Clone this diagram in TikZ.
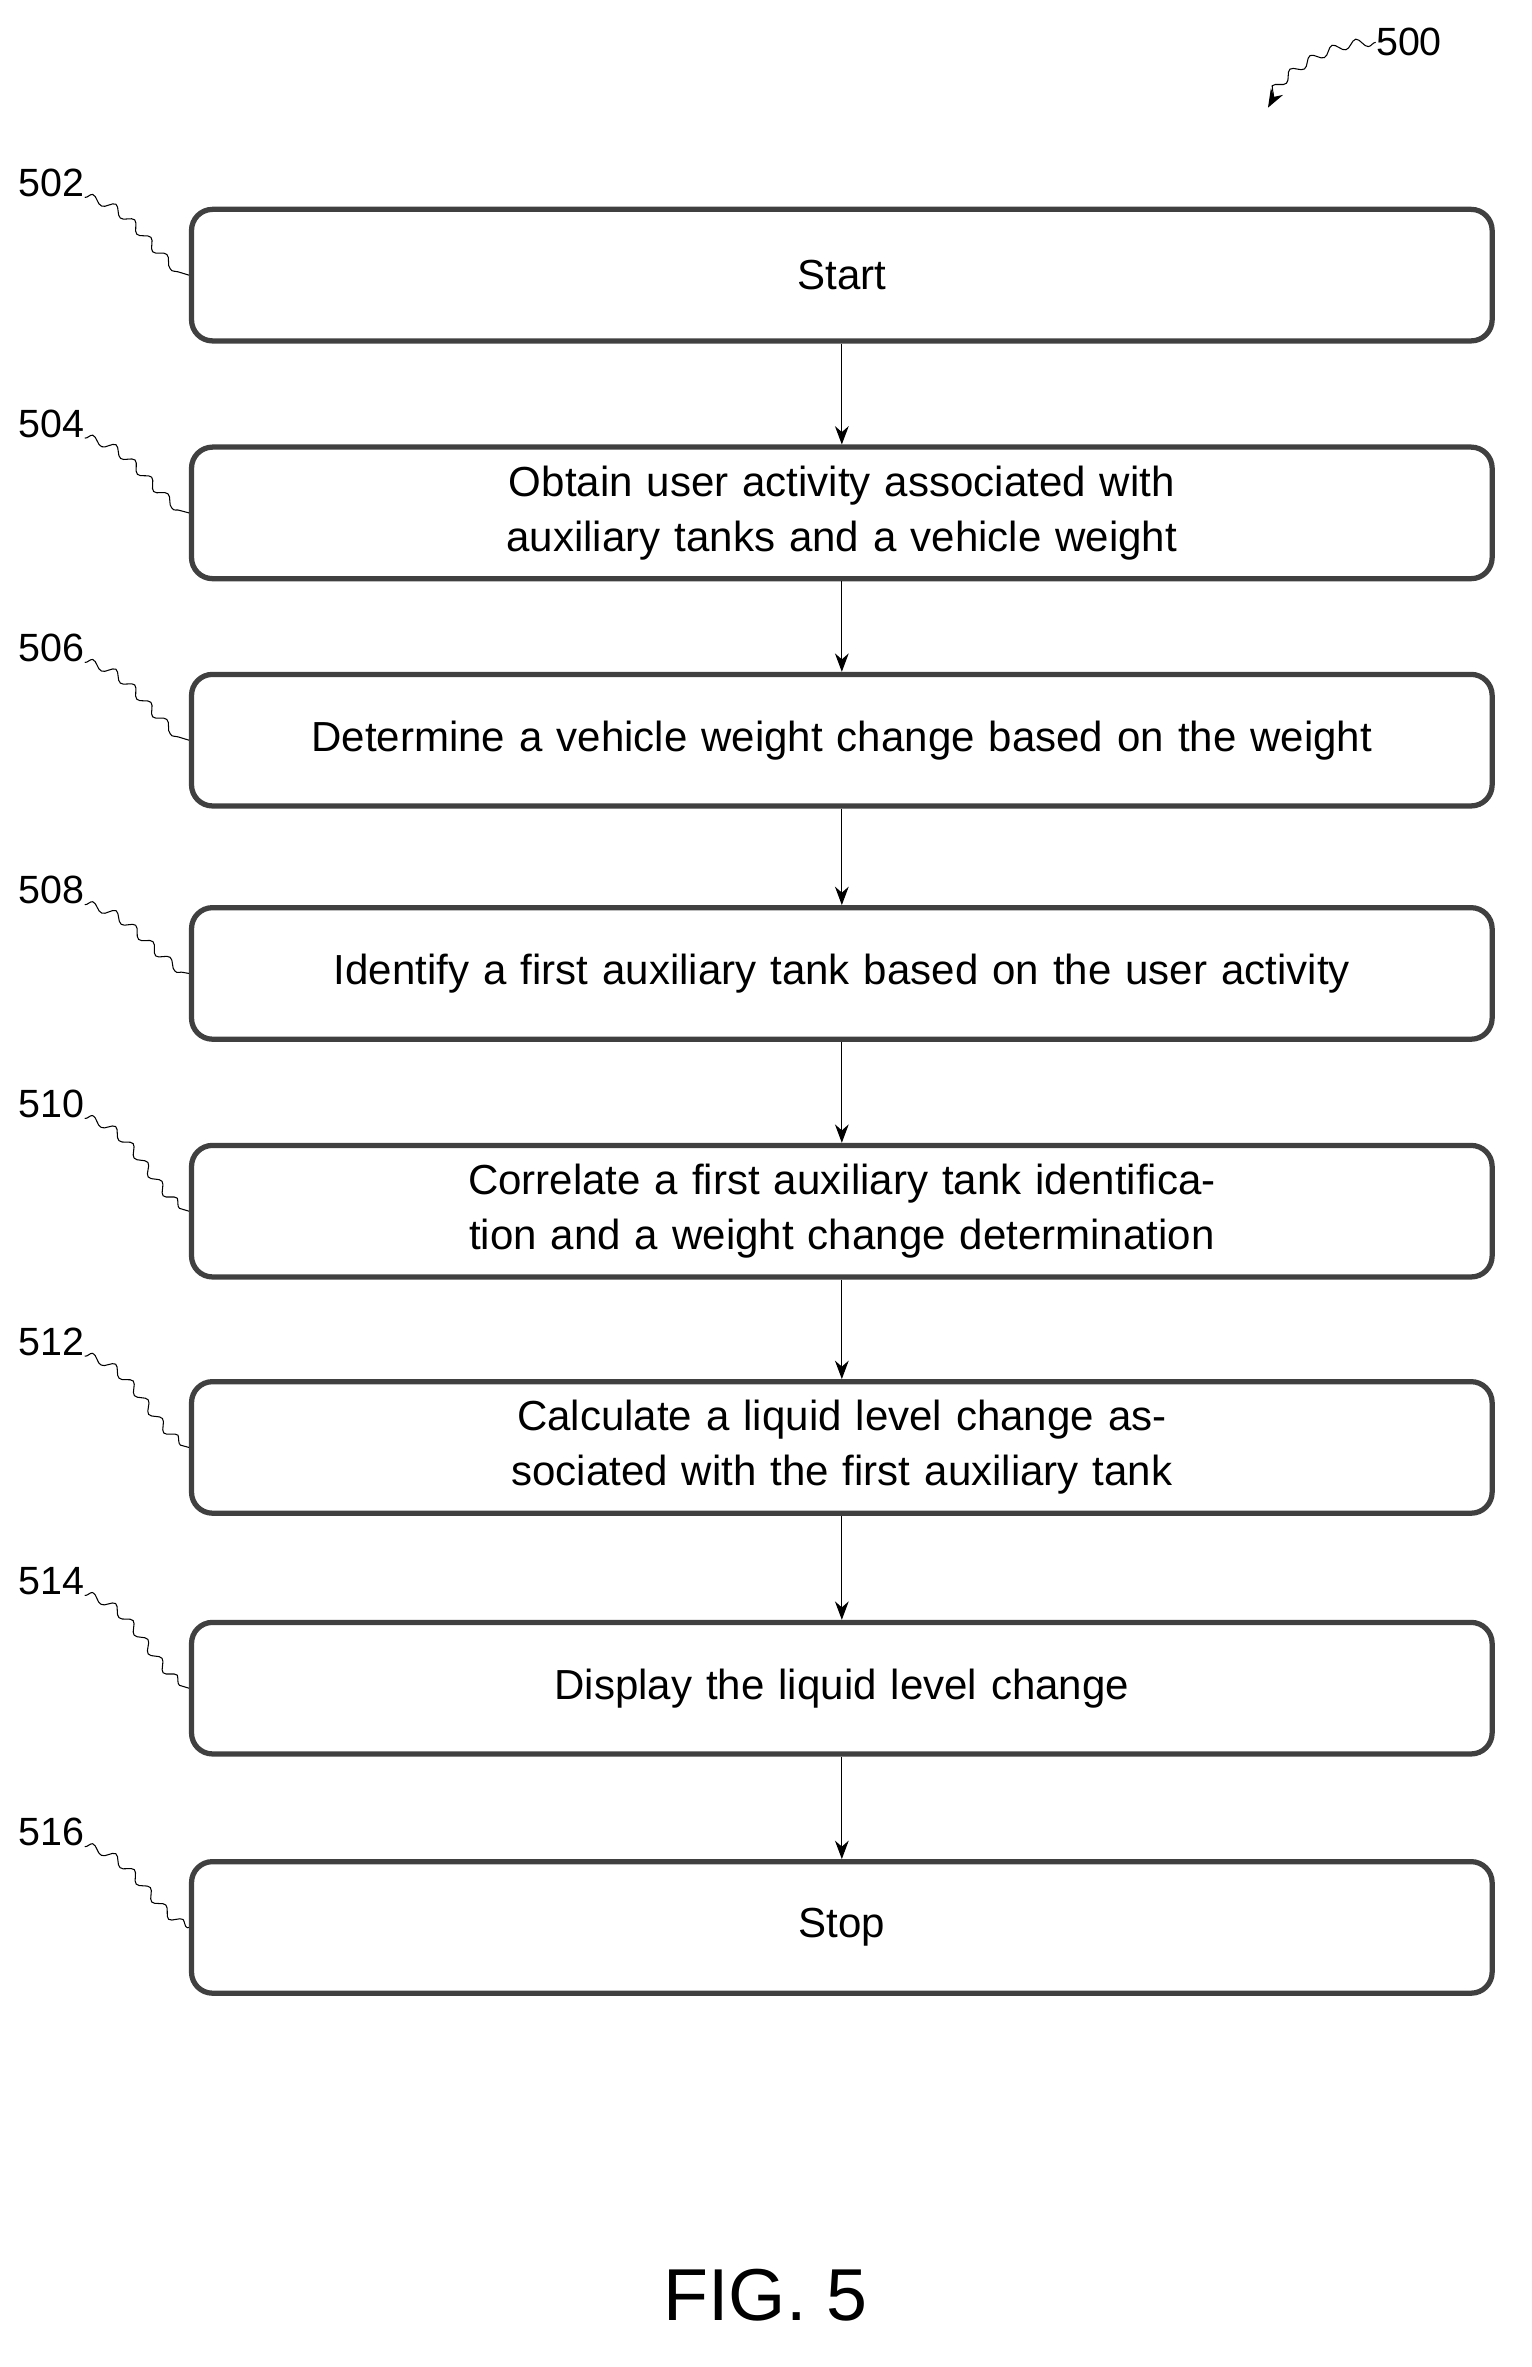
\documentclass[tikz,border=0pt]{standalone}
\usepackage{fontspec}
\setmainfont{Liberation Sans}
\usetikzlibrary{arrows.meta,decorations.pathmorphing}
\tikzset{
  stage/.style={draw=black!75,line width=2pt,rounded corners=8pt,minimum width=17.4cm,
    minimum height=1.76cm,text width=16.6cm,align=center,font=\fontsize{16}{21}\selectfont},
  lbl/.style={font=\fontsize{15}{18}\selectfont,anchor=south west,inner sep=0pt},
  wig/.style={thin,decorate,decoration={snake,amplitude=1.6pt,segment length=9pt}}
}
\begin{document}
\begin{tikzpicture}[x=0.02cm,y=-0.02cm]
\useasboundingbox (0,0) rectangle (1024,1583);
\node[stage] (Start) at (563,184){Start};
\node[stage] (Obtain) at (563,343){Obtain user activity associated with auxiliary tanks and a vehicle weight};
\node[stage] (Determine) at (563,495){Determine a vehicle weight change based on the weight};
\node[stage] (Identify) at (563,651){Identify a first auxiliary tank based on the user activity};
\node[stage] (Correlate) at (563,810){Correlate a first auxiliary tank identification and a weight change determination};
\node[stage] (Calculate) at (563,968){Calculate a liquid level change associated with the first auxiliary tank};
\node[stage] (Display) at (563,1129){Display the liquid level change};
\node[stage] (Stop) at (563,1289){Stop};
\foreach \from/\to in {Start/Obtain,Obtain/Determine,Determine/Identify,Identify/Correlate,Correlate/Calculate,Calculate/Display,Display/Stop}
  \draw[-{Stealth[length=7pt]}] (\from) -- (\to);
\foreach \blk/\num/\y in {Start/502/132,Obtain/504/293,Determine/506/443,Identify/508/605,Correlate/510/748,Calculate/512/907,Display/514/1067,Stop/516/1235}{
  \node[lbl] (L\num) at (12,\y){\num};
  \draw[wig] (L\num.south east) .. controls +(30,5) and +(-25,-5) .. (\blk.west);
}
\node[lbl] (L500) at (920,38){500};
\coordinate (Tip500) at (848,72);
\draw[wig,-{Stealth[length=7pt]}] (L500.west) .. controls +(-30,0) and +(10,-20) .. (Tip500);
\node[font=\fontsize{28}{32}\selectfont] (Fig) at (512,1535){FIG. 5};
\end{tikzpicture}
\end{document}
